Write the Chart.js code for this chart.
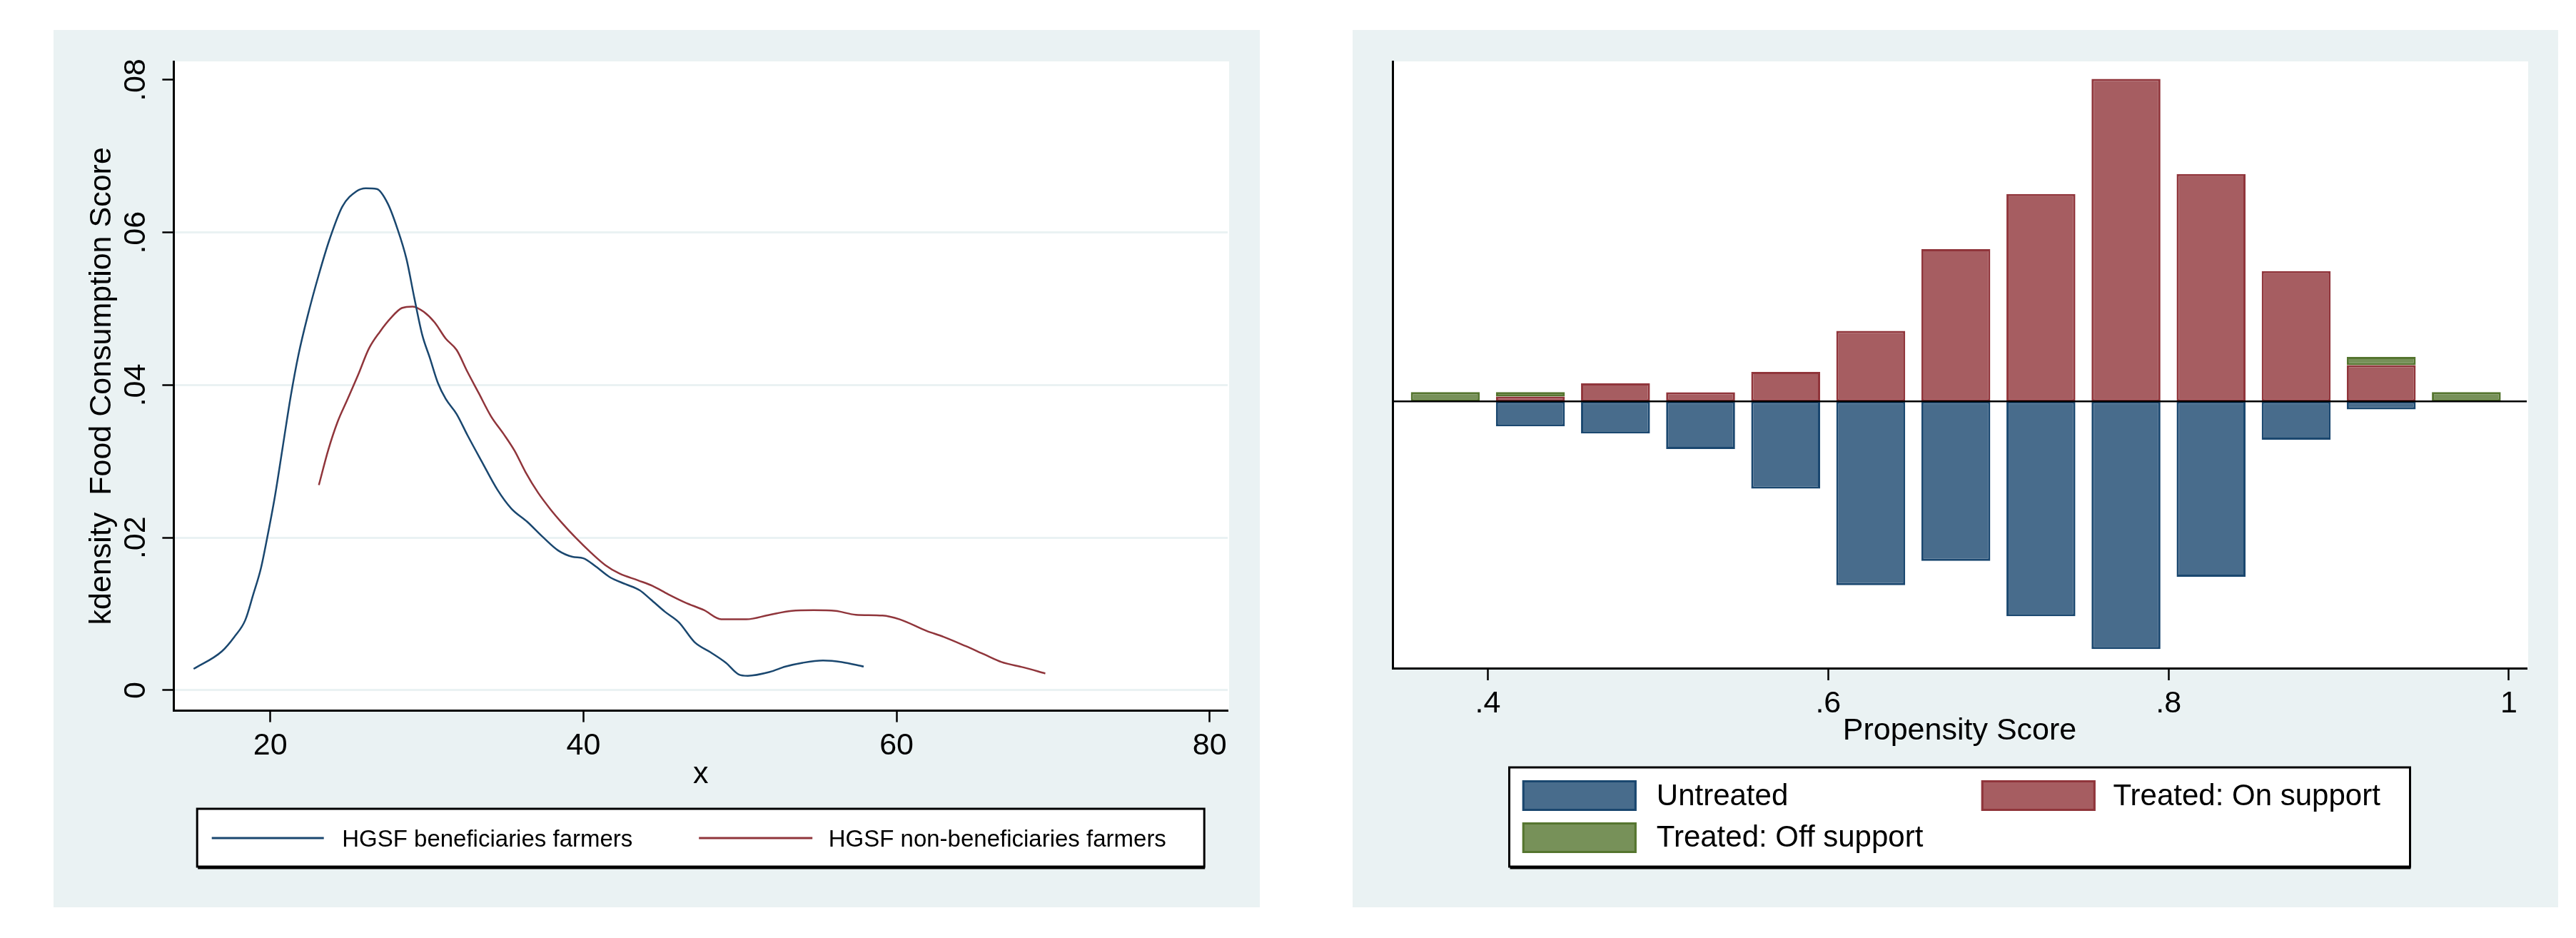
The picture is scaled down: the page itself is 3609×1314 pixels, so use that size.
<!DOCTYPE html>
<html><head><meta charset="utf-8">
<script src="https://cdn.jsdelivr.net/npm/chart.js@4.4.0/dist/chart.umd.min.js"></script>
<style>
html,body{margin:0;padding:0;background:#fff;width:3609px;height:1314px;overflow:hidden}
.panel{position:absolute;background:#EAF2F3}
#p1{left:75px;top:42px;width:1690px;height:1229px}
#p2{left:1895px;top:42px;width:1689px;height:1229px}
canvas{display:block}
</style></head><body>
<div class="panel" id="p1"><canvas id="c1" width="1690" height="1229"></canvas></div>
<div class="panel" id="p2"><canvas id="c2" width="1689" height="1229"></canvas></div>
<script>
// ---------- Left chart data (kernel densities) ----------
const kdXTicks = [20, 40, 60, 80];
const kdXTickLabels = ['20', '40', '60', '80'];
const kdYTicks = [0, 0.02, 0.04, 0.06, 0.08];
const kdYTickLabels = ['0', '.02', '.04', '.06', '.08'];
const seriesNames = ['HGSF beneficiaries farmers', 'HGSF non-beneficiaries farmers'];

const benX = [15.1,16.9,17.7,18.4,18.9,19.4,19.8,20.3,20.8,21.3,21.8,22.4,23.1,23.8,24.6,25.5,26.1,26.8,27.5,28.1,28.7,29.2,29.7,30.2,30.7,31.2,31.9,32.6,33.5,34.5,35.4,36.4,37.4,38.4,39.3,40.0,40.8,41.7,42.7,43.6,44.3,45.2,46.1,47.1,48.1,49.1,49.9,50.5,51.9,52.9,54.0,55.3,56.5,57.9];
const benY = [.0028,.0051,.0070,.0092,.0125,.0160,.0200,.0255,.0320,.0385,.0440,.0492,.0545,.0592,.0634,.0654,.0658,.0657,.0638,.0606,.0565,.0514,.0466,.0435,.0403,.0382,.0362,.0334,.0300,.0263,.0238,.0221,.0201,.0183,.0175,.0173,.0162,.0148,.0139,.0131,.0119,.0103,.0089,.0063,.0050,.0036,.0021,.0019,.0024,.0031,.0036,.0039,.0037,.0031];

const nonX = [23.1,23.7,24.3,24.9,25.6,26.3,27.0,27.7,28.4,29.1,29.8,30.5,31.2,31.9,32.6,33.3,34.1,34.9,35.6,36.3,37.1,37.9,38.6,39.5,40.5,41.4,42.3,43.5,44.4,45.4,46.5,47.7,48.8,50.4,51.9,53.3,54.7,56.1,57.4,59.1,60.2,61.9,63.0,64.4,65.6,66.7,68.1,69.5];
const nonY = [.0269,.0315,.0352,.0380,.0413,.0448,.0470,.0488,.0501,.0503,.0496,.0482,.0461,.0446,.0417,.0390,.0359,.0336,.0314,.0286,.0259,.0237,.0220,.0200,.0180,.0164,.0153,.0144,.0137,.0126,.0115,.0105,.0093,.0093,.0099,.0104,.0105,.0104,.0099,.0098,.0093,.0078,.0070,.0058,.0047,.0037,.0030,.0022];

// ---------- Right chart data (propensity score histogram) ----------
const psBins = [0.375,0.425,0.475,0.525,0.575,0.625,0.675,0.725,0.775,0.825,0.875,0.925,0.975];
const untreated  = [null,-2.69,-3.46,-5.13,-9.4,-19.8,-17.2,-23.15,-26.7,-18.9,-4.13,-0.87,null];
const treatedOn  = [null,0.52,1.95,0.99,3.18,7.6,16.4,22.35,34.75,24.5,14.05,3.9,null];
const treatedOff = [1.0,0.48,null,null,null,null,null,null,null,null,null,0.9,1.0];
const psNames = ['Untreated', 'Treated: On support', 'Treated: Off support'];
const psXTicks = [0.4, 0.6, 0.8, 1.0];
const psXTickLabels = ['.4', '.6', '.8', '1'];

// ---------- styling ----------
const FONT = "'Liberation Sans', Arial, Helvetica, sans-serif";
Chart.defaults.font.family = FONT;
Chart.defaults.color = '#000';
const NAVY = 'rgb(26,71,111)', MAROON = 'rgb(144,53,59)', FOREST = 'rgb(85,117,47)';
const NAVY_F = 'rgb(72,108,140)', MAROON_F = 'rgb(166,93,97)', FOREST_F = 'rgb(119,145,89)';
const GRIDC = 'rgb(234,242,243)';

const whitePlot = {
  id: 'whitePlot',
  beforeDraw(c) {
    const a = c.chartArea, ctx = c.ctx;
    ctx.save(); ctx.fillStyle = '#fff';
    ctx.fillRect(a.left, a.top, a.right - a.left + 2, a.bottom - a.top);
    ctx.restore();
  }
};

const rotYLabels = {
  id: 'rotYLabels',
  afterDraw(c) {
    const s = c.scales.y, ctx = c.ctx;
    ctx.save();
    ctx.font = '43px ' + FONT; ctx.fillStyle = '#000';
    ctx.textAlign = 'center'; ctx.textBaseline = 'middle';
    kdYTicks.forEach((v, i) => {
      const y = s.getPixelForValue(v);
      ctx.save(); ctx.translate(s.right - 52.7, y); ctx.rotate(-Math.PI / 2);
      ctx.fillText(kdYTickLabels[i], 0, 0); ctx.restore();
    });
    ctx.restore();
  }
};

function drawBox(ctx, L, T, w, h) {
  ctx.fillStyle = '#fff'; ctx.fillRect(L, T, w, h);
  ctx.strokeStyle = '#000'; ctx.lineWidth = 3; ctx.strokeRect(L, T, w, h);
  ctx.fillStyle = '#000'; ctx.fillRect(L + 1, T + h + 1, w, 2.5);
}

const kdLegend = {
  id: 'kdLegend',
  afterDraw(c) {
    const ctx = c.ctx, a = c.chartArea;
    const w = 1411, h = 81;
    const L = (a.left + a.right) / 2 - w / 2, T = 1091;
    ctx.save();
    drawBox(ctx, L, T, w, h);
    const items = [{l0: 20.5, l1: 177.5, t: 203}, {l0: 703, l1: 862, t: 884.5}];
    c.data.datasets.forEach((ds, i) => {
      const it = items[i];
      ctx.strokeStyle = ds.borderColor; ctx.lineWidth = 3;
      ctx.beginPath(); ctx.moveTo(L + it.l0, T + 41); ctx.lineTo(L + it.l1, T + 41); ctx.stroke();
      ctx.fillStyle = '#000'; ctx.font = '33px ' + FONT;
      ctx.textAlign = 'left'; ctx.textBaseline = 'middle';
      ctx.fillText(ds.label, L + it.t, T + 44);
    });
    ctx.restore();
  }
};

const zeroLine = {
  id: 'zeroLine',
  afterDatasetsDraw(c) {
    const a = c.chartArea, ctx = c.ctx, y = c.scales.y.getPixelForValue(0);
    ctx.save(); ctx.strokeStyle = '#000'; ctx.lineWidth = 2.5;
    ctx.beginPath(); ctx.moveTo(a.left, y); ctx.lineTo(a.right, y); ctx.stroke();
    ctx.restore();
  }
};

const psLegend = {
  id: 'psLegend',
  afterDraw(c) {
    const ctx = c.ctx, a = c.chartArea;
    const w = 1262, h = 139;
    const L = (a.left + a.right) / 2 - w / 2, T = 1033;
    ctx.save();
    drawBox(ctx, L, T, w, h);
    const items = [{sx: 18.3, sy: 18, tx: 206.3, ty: 41}, {sx: 661.3, sy: 18, tx: 846, ty: 41}, {sx: 18.3, sy: 77, tx: 206.3, ty: 99}];
    c.data.datasets.forEach((ds, i) => {
      const it = items[i];
      ctx.fillStyle = ds.backgroundColor; ctx.fillRect(L + it.sx, T + it.sy, 160, 43);
      ctx.strokeStyle = ds.borderColor; ctx.lineWidth = 3;
      ctx.strokeRect(L + it.sx + 1.5, T + it.sy + 1.5, 157, 40);
      ctx.fillStyle = '#000'; ctx.font = '42px ' + FONT;
      ctx.textAlign = 'left'; ctx.textBaseline = 'middle';
      ctx.fillText(ds.label, L + it.tx, T + it.ty);
    });
    ctx.restore();
  }
};

// ---------- Left chart ----------
new Chart(document.getElementById('c1'), {
  type: 'line',
  data: {
    datasets: [
      {label: seriesNames[0], data: benX.map((x, i) => ({x, y: benY[i]})), borderColor: NAVY, borderWidth: 2.5, pointRadius: 0, fill: false, cubicInterpolationMode: 'monotone'},
      {label: seriesNames[1], data: nonX.map((x, i) => ({x, y: nonY[i]})), borderColor: MAROON, borderWidth: 2.5, pointRadius: 0, fill: false, cubicInterpolationMode: 'monotone'}
    ]
  },
  options: {
    responsive: false, animation: false, devicePixelRatio: 1,
    layout: {padding: {left: 0, top: 44, right: 45, bottom: 164.5}},
    plugins: {legend: {display: false}, tooltip: {enabled: false}},
    scales: {
      x: {
        type: 'linear', min: 13.83, max: 81.15, bounds: 'data',
        afterBuildTicks: s => { s.ticks = kdXTicks.map(v => ({value: v})); },
        ticks: {callback: v => kdXTickLabels[kdXTicks.indexOf(v)], font: {size: 43, lineHeight: 1}, padding: 12, color: '#000', maxRotation: 0, autoSkip: false},
        grid: {display: true, drawOnChartArea: false, drawTicks: true, tickLength: 16, tickColor: '#000', tickWidth: 2.5},
        border: {display: true, color: '#000', width: 3},
        title: {display: true, text: 'x', font: {size: 43, lineHeight: 1}, padding: 0, color: '#000'},
        afterFit: s => { s.height = 110.9; }
      },
      y: {
        type: 'linear', min: -0.00268, max: 0.08243, bounds: 'data',
        afterBuildTicks: s => { s.ticks = kdYTicks.map(v => ({value: v})); },
        ticks: {display: false},
        grid: {display: true, drawOnChartArea: true, drawTicks: true, color: ctx => (ctx.tick && ctx.tick.value >= 0.079) ? 'rgba(0,0,0,0)' : GRIDC, lineWidth: 3, tickLength: 16, tickColor: '#000', tickWidth: 2.5},
        border: {display: true, color: '#000', width: 3},
        title: {display: true, text: 'kdensity  Food Consumption Score', font: {size: 43, lineHeight: 1}, padding: {top: 46.5, bottom: 0}, color: '#000'},
        afterFit: s => { s.width = 168.4; }
      }
    }
  },
  plugins: [whitePlot, rotYLabels, kdLegend]
});

// ---------- Right chart ----------
new Chart(document.getElementById('c2'), {
  type: 'bar',
  data: {
    datasets: [
      {label: psNames[0], data: psBins.map((x, i) => ({x, y: untreated[i]})), backgroundColor: NAVY_F, borderColor: NAVY},
      {label: psNames[1], data: psBins.map((x, i) => ({x, y: treatedOn[i]})), backgroundColor: MAROON_F, borderColor: MAROON},
      {label: psNames[2], data: psBins.map((x, i) => ({x, y: treatedOff[i]})), backgroundColor: FOREST_F, borderColor: FOREST}
    ]
  },
  options: {
    responsive: false, animation: false, devicePixelRatio: 1,
    layout: {padding: {left: 0, top: 44, right: 44, bottom: 225.5}},
    plugins: {legend: {display: false}, tooltip: {enabled: false}},
    datasets: {bar: {borderWidth: 3, borderSkipped: false, barPercentage: 0.81, categoryPercentage: 1}},
    scales: {
      x: {
        type: 'linear', min: 0.344, max: 1.0105, bounds: 'data', offset: false, stacked: true,
        afterBuildTicks: s => { s.ticks = psXTicks.map(v => ({value: v})); },
        ticks: {callback: v => psXTickLabels[psXTicks.indexOf(v)], font: {size: 43, lineHeight: 1}, padding: 11.5, color: '#000', maxRotation: 0, autoSkip: false},
        grid: {display: true, offset: false, drawOnChartArea: false, drawTicks: true, tickLength: 17, tickColor: '#000', tickWidth: 2.5},
        border: {display: true, color: '#000', width: 3},
        title: {display: true, text: 'Propensity Score', font: {size: 43, lineHeight: 1}, padding: 0, color: '#000'},
        afterFit: s => { s.height = 109.5; }
      },
      y: {
        type: 'linear', min: -28.75, max: 36.64, bounds: 'data', stacked: true,
        ticks: {display: false},
        grid: {display: false},
        border: {display: true, color: '#000', width: 3},
        afterFit: s => { s.width = 56; }
      }
    }
  },
  plugins: [whitePlot, zeroLine, psLegend]
});
</script>
</body></html>
